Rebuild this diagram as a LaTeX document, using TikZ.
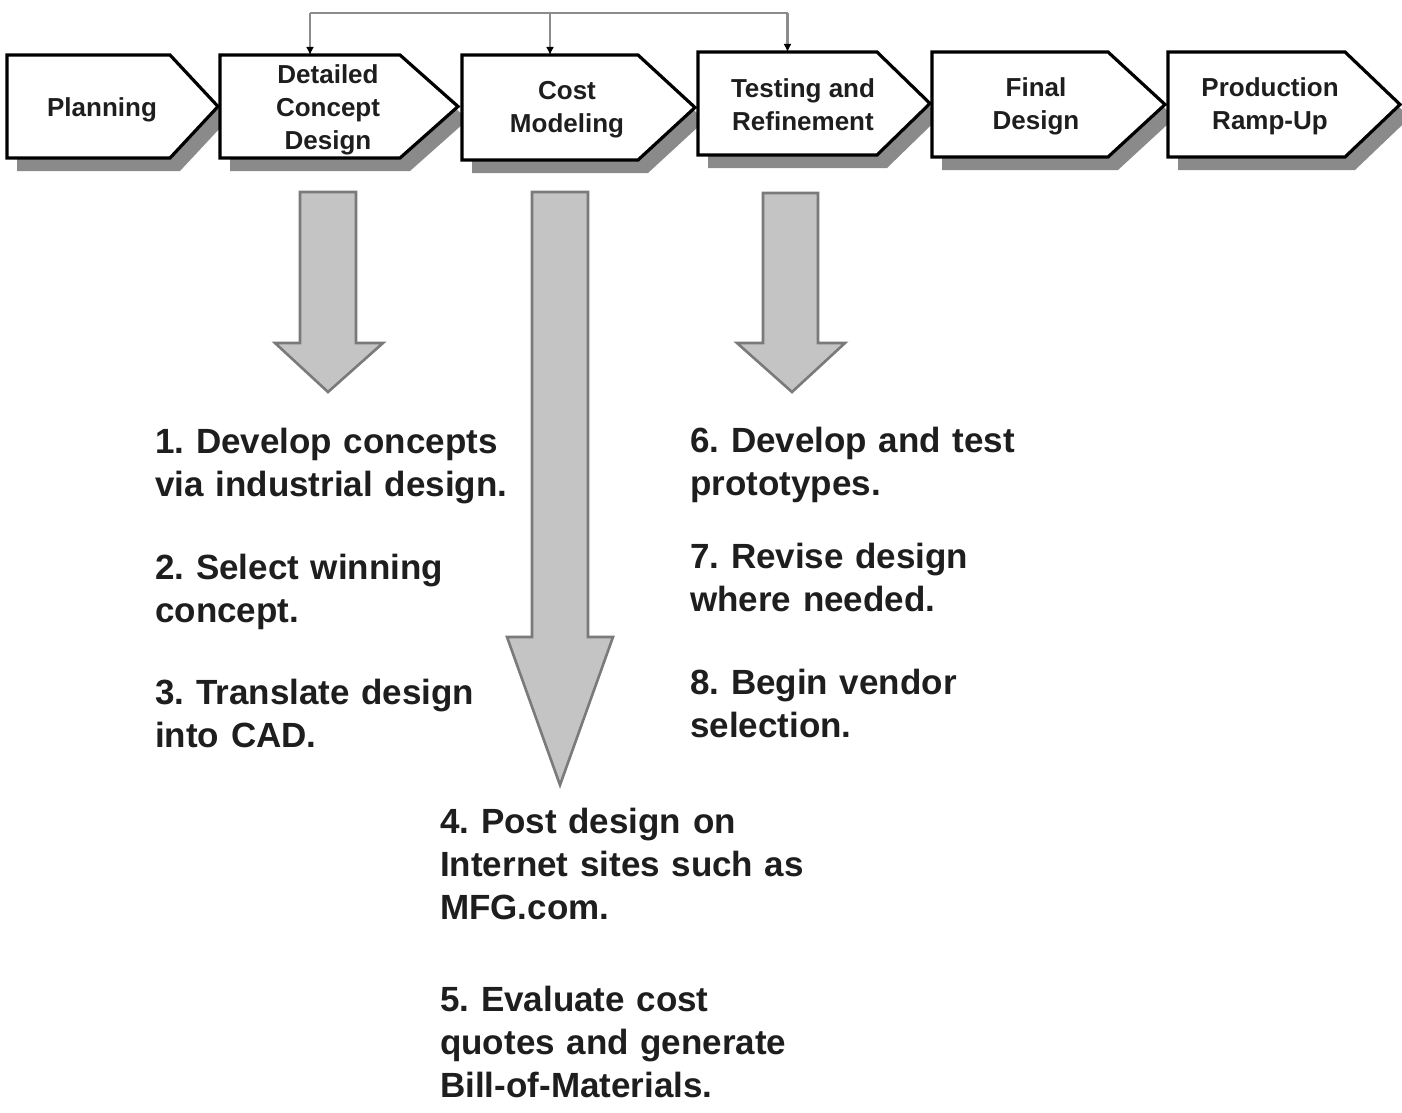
\documentclass[tikz,border=0pt]{standalone}
\usepackage{fontspec}
\setmainfont{Liberation Sans}
\usetikzlibrary{arrows.meta,calc}
\definecolor{shadowcol}{HTML}{8A8A8A}
\definecolor{arrowfill}{HTML}{C4C4C4}
\definecolor{arrowline}{HTML}{7A7A7A}
\definecolor{buscol}{HTML}{8C8C8C}
\definecolor{txt}{HTML}{1E1E1E}
\tikzset{
  chevbox/.style={rectangle, draw=none, inner sep=0pt, outer sep=0pt},
  chevline/.style={draw=black, fill=white, line width=3.2pt, line join=miter},
  chevtext/.style={align=center, text=txt, inner sep=0pt,
    font=\fontsize{26}{33}\selectfont\bfseries},
  itemtext/.style={align=left, text width=420pt, anchor=base west, text=txt, inner sep=0pt,
    font=\fontsize{35}{43}\selectfont\bfseries\frenchspacing},
  bigarrow/.style={fill=arrowfill, draw=arrowline, line width=2.6pt, line join=miter},
  bus/.style={draw=buscol, line width=2.6pt},
  busarrow/.style={bus, -{Latex[length=8pt,width=8pt,color=black]}},
}
\newcommand\chevron[6]{%
  \node[chevbox, minimum width=#4, minimum height=#5] (#1) at (#2,#3) {};
  \fill[shadowcol] ([shift={(10,13)}]#1.north west) -- ([shift={(10,13)}]#1.north east)
     -- ([shift={(10+#6,13)}]#1.east) -- ([shift={(10,13)}]#1.south east)
     -- ([shift={(10,13)}]#1.south west) -- cycle;
  \filldraw[chevline] (#1.north west) -- (#1.north east) -- ([shift={(#6,0)}]#1.east)
     -- (#1.south east) -- (#1.south west) -- cycle;
}
\frenchspacing
\begin{document}
\begin{tikzpicture}[x=1pt,y=-1pt]
\useasboundingbox[fill=white] (0,0) rectangle (1402,1113);

% chevrons: name, cx, cy, rect width, height, tip length
\chevron{plan}{88.5}{106.5}{163}{103}{48}
\chevron{dcd}{310}{106.5}{180}{103}{58}
\chevron{cm}{550}{107.5}{176}{105}{57}
\chevron{tr}{787.5}{103.5}{179}{103}{53}
\chevron{fd}{1020}{104.5}{176}{105}{57}
\chevron{pr}{1256.5}{104.5}{177}{105}{55}

\node[chevtext] (plant) at (102,110) {Planning};
\node[chevtext] (dcdt) at (328,110) {Detailed\\Concept\\Design};
\node[chevtext] (cmt) at (567,110) {Cost\\Modeling};
\node[chevtext] (trt) at (803,105) {Testing and\\Refinement};
\node[chevtext] (fdt) at (1036,106) {Final\\Design};
\node[chevtext] (prt) at (1270,106) {Production\\Ramp-Up};

% feedback bus on top
\coordinate (busy) at (0,13);
\draw[bus] (busy -| dcd.north) -- (busy -| tr.north);
\draw[busarrow] (busy -| dcd.north) -- (dcd.north);
\draw[busarrow] (busy -| cm.north) -- (cm.north);
\draw[busarrow] (busy -| tr.north) -- (tr.north);

% big gray arrows
\draw[bigarrow] (300,192) -- (356,192) -- (356,343) -- (383,343) -- (328,392)
   -- (275,343) -- (300,343) -- cycle;
\draw[bigarrow] (532,192) -- (588,192) -- (588,637) -- (613,637) -- (560,785)
   -- (507,637) -- (532,637) -- cycle;
\draw[bigarrow] (763,193) -- (818,193) -- (818,343) -- (845,343) -- (792,392)
   -- (737,343) -- (763,343) -- cycle;

% step texts
\node[itemtext] (s1) at (155,453) {1. Develop concepts\\via industrial design.};
\node[itemtext] (s2) at (155,579) {2. Select winning\\concept.};
\node[itemtext] (s3) at (155,704) {3. Translate design\\into CAD.};
\node[itemtext] (s4) at (440,833) {4. Post design on\\Internet sites such as\\MFG.com.};
\node[itemtext] (s5) at (440,1011) {5. Evaluate cost\\quotes and generate\\Bill-of-Materials.};
\node[itemtext] (s6) at (690,452) {6. Develop and test\\prototypes.};
\node[itemtext] (s7) at (690,568) {7. Revise design\\where needed.};
\node[itemtext] (s8) at (690,694) {8. Begin vendor\\selection.};
\end{tikzpicture}
\end{document}
